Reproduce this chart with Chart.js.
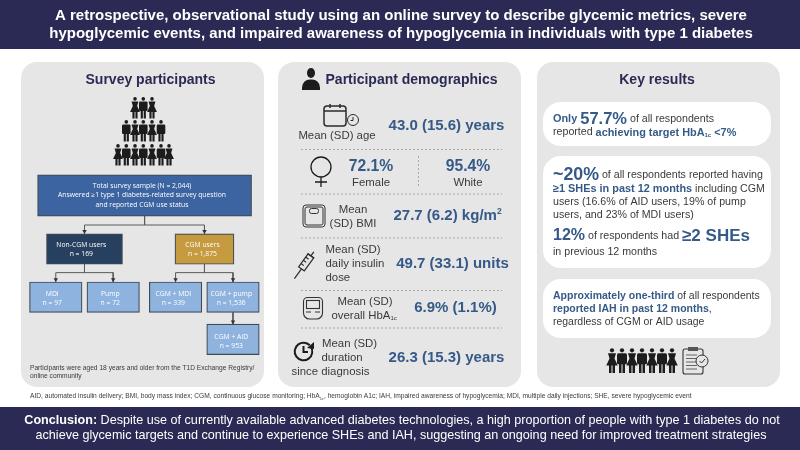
<!DOCTYPE html>
<html>
<head>
<meta charset="utf-8">
<script src="https://cdn.jsdelivr.net/npm/chart.js@4"></script>
<style>
  html, body { margin: 0; padding: 0; background: #fff; }
  canvas { display: block; }
</style>
</head>
<body>
<canvas id="chart" width="800" height="450"></canvas>
<script>
// values
const titleLines = [
  "A retrospective, observational study using an online survey to describe glycemic metrics, severe",
  "hypoglycemic events, and impaired awareness of hypoglycemia in individuals with type 1 diabetes"
];
const panelTitles = ["Survey participants", "Participant demographics", "Key results"];

const groupNames = ["Non-CGM users", "CGM users", "MDI", "Pump", "CGM + MDI", "CGM + pump", "CGM + AID"];
const groupCounts = [169, 1875, 97, 72, 339, 1536, 953];
const totalSample = 2044;

const ageMean = "43.0 (15.6) years";
const femalePct = "72.1%";
const whitePct = "95.4%";
const bmiMean = "27.7 (6.2) kg/m";
const insulinMean = "49.7 (33.1) units";
const hba1cMean = "6.9% (1.1%)";
const durationMean = "26.3 (15.3) years";

const footnote = "AID, automated insulin delivery; BMI, body mass index; CGM, continuous glucose monitoring; HbA";
const footnoteEnd = ", hemoglobin A1c; IAH, impaired awareness of hypoglycemia; MDI, multiple daily injections; SHE, severe hypoglycemic event";

// layout of the flow diagram, on the 800 x 450 axes
const NAVY = "#2a2a55", BLUE = "#355a88", INK = "#3a3a3a", SANS = '"Liberation Sans", Arial, sans-serif';
const FLOW = '"Open Sans", sans-serif';

const centreX = [81.3, 202.5, 52.3, 110.3, 173.3, 231.3, 231.3];
const topY = [234, 234, 283, 283, 283, 283, 326];
const bottomY = [265, 265, 314, 314, 314, 314, 357];
const widths = [76, 59, 52.5, 52.5, 52.5, 52.5, 52.5];
const fills = ["#27405f", "#c69a3f", "#8fb3df", "#8fb3df", "#8fb3df", "#8fb3df", "#8fb3df"];

const boxDatasets = groupNames.map((name, i) => ({
  label: name,
  data: [{ x: centreX[i], y: [topY[i], bottomY[i]] }],
  backgroundColor: fills[i],
  borderColor: "#3e4a55",
  borderWidth: 1.2,
  borderSkipped: false,
  barThickness: widths[i],
  grouped: false,
  order: 2
}));
boxDatasets.push({
  label: "Total survey sample",
  data: [{ x: 142, y: [174, 216] }],
  backgroundColor: "#3c64a0",
  borderColor: "#3e4a55",
  borderWidth: 1.2,
  borderSkipped: false,
  barThickness: 214,
  grouped: false,
  order: 2
});

const connectors = [
  [142, 216], [142, 225], [null, null],
  [81.3, 234], [81.3, 225], [202.5, 225], [202.5, 234], [null, null],
  [81.3, 265], [81.3, 273.5], [null, null],
  [52.3, 283], [52.3, 273.5], [110.3, 273.5], [110.3, 283], [null, null],
  [202.5, 265], [202.5, 273.5], [null, null],
  [173.3, 283], [173.3, 273.5], [231.3, 273.5], [231.3, 283], [null, null],
  [231.3, 314], [231.3, 326]
].map(p => ({ x: p[0], y: p[1] }));

const arrowTips = [
  [81.3, 231.5], [202.5, 231.5], [52.3, 280.5], [110.3, 280.5],
  [173.3, 280.5], [231.3, 280.5], [231.3, 323.5]
].map(p => ({ x: p[0], y: p[1] }));

function text(ctx, str, x, y, font, color, align) {
  ctx.font = font;
  ctx.fillStyle = color;
  ctx.textAlign = align || "left";
  ctx.textBaseline = "middle";
  ctx.fillText(str, x, y);
}

// one line made of runs with different fonts
function runs(ctx, x, y, parts) {
  ctx.textAlign = "left";
  ctx.textBaseline = "middle";
  parts.forEach(p => {
    ctx.font = p[1];
    ctx.fillStyle = p[2];
    ctx.fillText(p[0], x, y + (p[3] || 0));
    x += ctx.measureText(p[0]).width;
  });
}

function roundBox(ctx, x, y, w, h, r, color) {
  ctx.beginPath();
  ctx.roundRect(x, y, w, h, r);
  ctx.fillStyle = color;
  ctx.fill();
}

function dashed(ctx, x1, y1, x2, y2) {
  ctx.save();
  ctx.strokeStyle = "#9a9a9a";
  ctx.lineWidth = 0.8;
  ctx.setLineDash([2, 2]);
  ctx.beginPath();
  ctx.moveTo(x1, y1);
  ctx.lineTo(x2, y2);
  ctx.stroke();
  ctx.restore();
}

function person(ctx, cx, top, h, female) {
  ctx.fillStyle = "#1c1c1c";
  ctx.beginPath();
  ctx.arc(cx, top + h * 0.09, h * 0.085, 0, Math.PI * 2);
  ctx.fill();
  const w = h * 0.2;
  ctx.beginPath();
  if (female) {
    ctx.moveTo(cx - w * 0.8, top + h * 0.21);
    ctx.lineTo(cx + w * 0.8, top + h * 0.21);
    ctx.lineTo(cx + w * 0.5, top + h * 0.42);
    ctx.lineTo(cx + w * 1.15, top + h * 0.7);
    ctx.lineTo(cx - w * 1.15, top + h * 0.7);
    ctx.lineTo(cx - w * 0.5, top + h * 0.42);
  } else {
    ctx.roundRect(cx - w, top + h * 0.21, w * 2, h * 0.44, h * 0.06);
  }
  ctx.fill();
  ctx.fillRect(cx - w * 0.6, top + h * 0.6, w * 0.5, h * 0.4);
  ctx.fillRect(cx + w * 0.1, top + h * 0.6, w * 0.5, h * 0.4);
}

function outline(ctx, color, width) {
  ctx.strokeStyle = color;
  ctx.lineWidth = width;
  ctx.setLineDash([]);
}

function drawIcons(ctx) {
  // title figure
  ctx.fillStyle = "#1c1c1c";
  ctx.beginPath();
  ctx.ellipse(311, 73, 4, 5, 0, 0, Math.PI * 2);
  ctx.fill();
  ctx.beginPath();
  ctx.roundRect(302, 79.5, 18, 10.5, [8, 8, 0, 0]);
  ctx.fill();

  // calendar + clock
  outline(ctx, "#2b2b2b", 1.5);
  ctx.beginPath();
  ctx.roundRect(324, 106, 22, 20, 3);
  ctx.moveTo(324, 111);
  ctx.lineTo(346, 111);
  ctx.moveTo(330, 104);
  ctx.lineTo(330, 108);
  ctx.moveTo(340, 104);
  ctx.lineTo(340, 108);
  ctx.stroke();
  outline(ctx, "#2b2b2b", 1);
  ctx.beginPath();
  ctx.fillStyle = "#e6e6e6";
  ctx.arc(353, 120, 5.5, 0, Math.PI * 2);
  ctx.fill();
  ctx.stroke();
  ctx.beginPath();
  ctx.moveTo(353, 117);
  ctx.lineTo(353, 120.5);
  ctx.lineTo(350.5, 120.5);
  ctx.stroke();

  // venus
  outline(ctx, "#1c1c1c", 1.3);
  ctx.beginPath();
  ctx.arc(321, 167, 10, 0, Math.PI * 2);
  ctx.moveTo(321, 177);
  ctx.lineTo(321, 187);
  ctx.moveTo(315, 182);
  ctx.lineTo(327, 182);
  ctx.stroke();

  // scale
  outline(ctx, "#333", 1);
  ctx.beginPath();
  ctx.roundRect(303, 205, 22, 22, 3);
  ctx.roundRect(305, 207, 18, 18, 2);
  ctx.stroke();
  ctx.beginPath();
  ctx.roundRect(309.5, 208.5, 9, 5, 2);
  ctx.stroke();

  // syringe
  ctx.save();
  ctx.translate(305, 264);
  ctx.rotate(-Math.PI * 0.3);
  outline(ctx, "#2b2b2b", 1.2);
  ctx.strokeRect(-6, -3.5, 16, 7);
  ctx.beginPath();
  ctx.moveTo(10, -4);
  ctx.lineTo(10, 4);
  ctx.moveTo(10, 0);
  ctx.lineTo(15, 0);
  ctx.moveTo(-6, 0);
  ctx.lineTo(-18, 0);
  ctx.moveTo(-2, -3.5);
  ctx.lineTo(-2, 0);
  ctx.moveTo(2, -3.5);
  ctx.lineTo(2, 0);
  ctx.moveTo(6, -3.5);
  ctx.lineTo(6, 0);
  ctx.stroke();
  ctx.restore();

  // meter
  outline(ctx, "#333", 1.1);
  ctx.beginPath();
  ctx.roundRect(303.5, 297.5, 19, 21.5, [4, 4, 6, 6]);
  ctx.stroke();
  ctx.strokeRect(306.5, 300.5, 13, 8);
  ctx.beginPath();
  ctx.moveTo(306, 312);
  ctx.lineTo(311, 312);
  ctx.moveTo(315, 312);
  ctx.lineTo(320, 312);
  ctx.stroke();

  // clock arrow
  outline(ctx, "#1c1c1c", 2);
  ctx.beginPath();
  ctx.arc(303.5, 351.5, 8.8, -Math.PI * 0.2, Math.PI * 1.75);
  ctx.stroke();
  ctx.beginPath();
  ctx.moveTo(303.5, 346);
  ctx.lineTo(303.5, 352);
  ctx.lineTo(308, 352);
  ctx.stroke();
  ctx.fillStyle = "#1c1c1c";
  ctx.beginPath();
  ctx.moveTo(314, 342);
  ctx.lineTo(314, 349);
  ctx.lineTo(307, 348);
  ctx.fill();

  // clipboard
  ctx.fillStyle = "#e6e6e6";
  outline(ctx, "#333", 1.1);
  ctx.beginPath();
  ctx.roundRect(683, 349, 20, 25, 2);
  ctx.stroke();
  ctx.fillStyle = "#555";
  ctx.fillRect(688, 347, 10, 4);
  outline(ctx, "#555", 0.9);
  ctx.beginPath();
  [355, 358.5, 362, 365.5, 369].forEach(y => {
    ctx.moveTo(686, y);
    ctx.lineTo(697, y);
  });
  ctx.stroke();
  ctx.fillStyle = "#e6e6e6";
  outline(ctx, "#333", 1);
  ctx.beginPath();
  ctx.arc(702, 361, 6, 0, Math.PI * 2);
  ctx.fill();
  ctx.stroke();
  ctx.beginPath();
  ctx.moveTo(699.5, 361);
  ctx.lineTo(701.5, 363);
  ctx.lineTo(705, 359);
  ctx.stroke();

  // people
  [[135, 143.3, 152], [126.3, 135, 143.3, 152, 161], [118, 126.3, 135, 143.3, 152, 161, 169]].forEach((row, r) => {
    const top = [97, 120, 144][r];
    row.forEach((cx, i) => person(ctx, cx, top, 21.5, r === 1 ? i % 2 === 1 : i % 2 === 0));
  });
  [612, 622, 632, 642, 652, 662, 672].forEach((cx, i) => person(ctx, cx, 348, 25, i % 2 === 0));
}

const backdrop = {
  id: "backdrop",
  beforeDatasetsDraw(chart) {
    const ctx = chart.ctx;
    ctx.save();
    ctx.fillStyle = "#fff";
    ctx.fillRect(0, 0, 800, 450);
    ctx.fillStyle = NAVY;
    ctx.fillRect(0, 0, 800, 49);
    ctx.fillRect(0, 407, 800, 43);
    roundBox(ctx, 21, 62, 243, 325, 16, "#e6e6e6");
    roundBox(ctx, 278, 62, 243, 325, 16, "#e6e6e6");
    roundBox(ctx, 537, 62, 243, 325, 16, "#e6e6e6");
    roundBox(ctx, 543, 102, 228, 44, 18, "#fff");
    roundBox(ctx, 543, 156, 228, 112, 18, "#fff");
    roundBox(ctx, 543, 279, 228, 59, 18, "#fff");
    ctx.restore();
  },
  afterDatasetsDraw(chart) {
    const ctx = chart.ctx;
    ctx.save();
    const titleFont = "bold 15px " + SANS;
    text(ctx, titleLines[0], 401, 16, titleFont, "#fff", "center");
    text(ctx, titleLines[1], 401, 33.5, titleFont, "#fff", "center");

    const headFont = "bold 14px " + SANS;
    text(ctx, panelTitles[0], 150.5, 80, headFont, NAVY, "center");
    text(ctx, panelTitles[1], 411.5, 80, headFont, NAVY, "center");
    text(ctx, panelTitles[2], 657, 80, headFont, NAVY, "center");

    // flow diagram labels
    const flowFont = "6.8px " + FLOW;
    text(ctx, "Total survey sample (N = " + totalSample.toLocaleString("en-US") + ")", 142, 186, flowFont, "#fff", "center");
    text(ctx, "Answered \u22651 type 1 diabetes-related survey question", 142, 195.5, flowFont, "#fff", "center");
    text(ctx, "and reported CGM use status", 142, 205, flowFont, "#fff", "center");
    groupNames.forEach((name, i) => {
      const mid = (topY[i] + bottomY[i]) / 2;
      text(ctx, name, centreX[i], mid - 4.5, flowFont, "#fff", "center");
      text(ctx, "n = " + groupCounts[i].toLocaleString("en-US"), centreX[i], mid + 4.5, flowFont, "#fff", "center");
    });
    const noteFont = "6.65px " + SANS;
    text(ctx, "Participants were aged 18 years and older from the T1D Exchange Registry/", 30, 368.5, noteFont, INK);
    text(ctx, "online community", 30, 376.5, noteFont, INK);

    // demographics
    const label = "11.4px " + SANS;
    const value = "bold 15px " + SANS;
    text(ctx, "Mean (SD) age", 337, 136, label, INK, "center");
    text(ctx, ageMean, 446.5, 126, value, BLUE, "center");
    dashed(ctx, 301, 149.5, 502, 149.5);
    text(ctx, femalePct, 371, 167, "bold 15.7px " + SANS, BLUE, "center");
    text(ctx, "Female", 371, 182.5, label, INK, "center");
    dashed(ctx, 418.5, 156, 418.5, 188);
    text(ctx, whitePct, 468, 167, "bold 15.7px " + SANS, BLUE, "center");
    text(ctx, "White", 468, 182.5, label, INK, "center");
    dashed(ctx, 301, 194, 502, 194);
    text(ctx, "Mean", 353, 209.5, label, INK, "center");
    text(ctx, "(SD) BMI", 353, 224, label, INK, "center");
    runs(ctx, 393.5, 216, [[bmiMean, value, BLUE], ["2", "bold 8.5px " + SANS, BLUE, -4]]);
    dashed(ctx, 301, 238, 502, 238);
    text(ctx, "Mean (SD)", 325.5, 250, label, INK);
    text(ctx, "daily insulin", 325.5, 264, label, INK);
    text(ctx, "dose", 325.5, 278, label, INK);
    text(ctx, insulinMean, 452.5, 264, value, BLUE, "center");
    dashed(ctx, 301, 290.5, 502, 290.5);
    text(ctx, "Mean (SD)", 365, 302, label, INK, "center");
    runs(ctx, 331.5, 316, [["overall HbA", label, INK], ["1c", "6px " + SANS, INK, 2.5]]);
    text(ctx, hba1cMean, 455.5, 308, value, BLUE, "center");
    dashed(ctx, 301, 328, 502, 328);
    text(ctx, "Mean (SD)", 322, 344, label, INK);
    text(ctx, "duration", 342, 358, label, INK, "center");
    text(ctx, "since diagnosis", 291.5, 372, label, INK);
    text(ctx, durationMean, 446.5, 358, value, BLUE, "center");

    // key results
    const r = "10.65px " + SANS, rb = "bold 10.9px " + SANS;
    const r3 = "10.45px " + SANS, rb3 = "bold 10.5px " + SANS;
    runs(ctx, 553, 119, [["Only ", rb, BLUE], ["57.7%", "bold 16.5px " + SANS, BLUE], [" of all respondents", r, INK]]);
    runs(ctx, 553, 132.5, [["reported ", r, INK], ["achieving target HbA", rb, BLUE], ["1c", "bold 6px " + SANS, BLUE, 2.5], [" <7%", rb, BLUE]]);
    runs(ctx, 553, 175, [["~20%", "bold 17.8px " + SANS, BLUE], [" of all respondents reported having", r, INK]]);
    runs(ctx, 553, 189, [["\u22651 SHEs in past 12 months", rb, BLUE], [" including CGM", r, INK]]);
    text(ctx, "users (16.6% of AID users, 19% of pump", 553, 202, r, INK);
    text(ctx, "users, and 23% of MDI users)", 553, 215, r, INK);
    runs(ctx, 553, 236, [["12%", "bold 16px " + SANS, BLUE], [" of respondents had ", r, INK], ["\u22652 SHEs", "bold 17px " + SANS, BLUE]]);
    text(ctx, "in previous 12 months", 553, 252, r, INK);
    runs(ctx, 553, 296, [["Approximately one-third", rb3, BLUE], [" of all respondents", r3, INK]]);
    runs(ctx, 553, 309.5, [["reported IAH in past 12 months", rb3, BLUE], [",", r3, INK]]);
    text(ctx, "regardless of CGM or AID usage", 553, 322, r3, INK);

    drawIcons(ctx);

    // footer
    const fn = "6.65px " + SANS;
    runs(ctx, 30, 396.5, [[footnote, fn, INK], ["1c", "4px " + SANS, INK, 2], [footnoteEnd, fn, INK]]);
    const foot = "12.6px " + SANS;
    const lead = "Conclusion:";
    const rest = " Despite use of currently available advanced diabetes technologies, a high proportion of people with type 1 diabetes do not";
    ctx.font = "bold " + foot;
    const leadW = ctx.measureText(lead).width;
    ctx.font = foot;
    const start = 402 - (leadW + ctx.measureText(rest).width) / 2;
    runs(ctx, start, 421, [[lead, "bold " + foot, "#fff"], [rest, foot, "#fff"]]);
    text(ctx, "achieve glycemic targets and continue to experience SHEs and IAH, suggesting an ongoing need for improved treatment strategies", 401, 435.5, foot, "#fff", "center");
    ctx.restore();
  }
};

new Chart(document.getElementById("chart"), {
  type: "bar",
  data: {
    datasets: [
      ...boxDatasets,
      {
        type: "line",
        label: "connectors",
        data: connectors,
        borderColor: "#5a5a5a",
        borderWidth: 1,
        pointRadius: 0,
        spanGaps: false,
        tension: 0,
        order: 3
      },
      {
        type: "scatter",
        label: "arrows",
        data: arrowTips,
        pointStyle: "triangle",
        rotation: 180,
        pointRadius: 2.6,
        backgroundColor: "#333",
        borderColor: "#333",
        borderWidth: 0,
        order: 1
      }
    ]
  },
  options: {
    responsive: false,
    animation: false,
    devicePixelRatio: 1,
    layout: { padding: 0 },
    plugins: { legend: { display: false }, tooltip: { enabled: false } },
    scales: {
      x: { type: "linear", min: 0, max: 800, offset: false, display: false },
      y: { type: "linear", min: 0, max: 450, reverse: true, display: false }
    }
  },
  plugins: [backdrop]
});
</script>
</body>
</html>
